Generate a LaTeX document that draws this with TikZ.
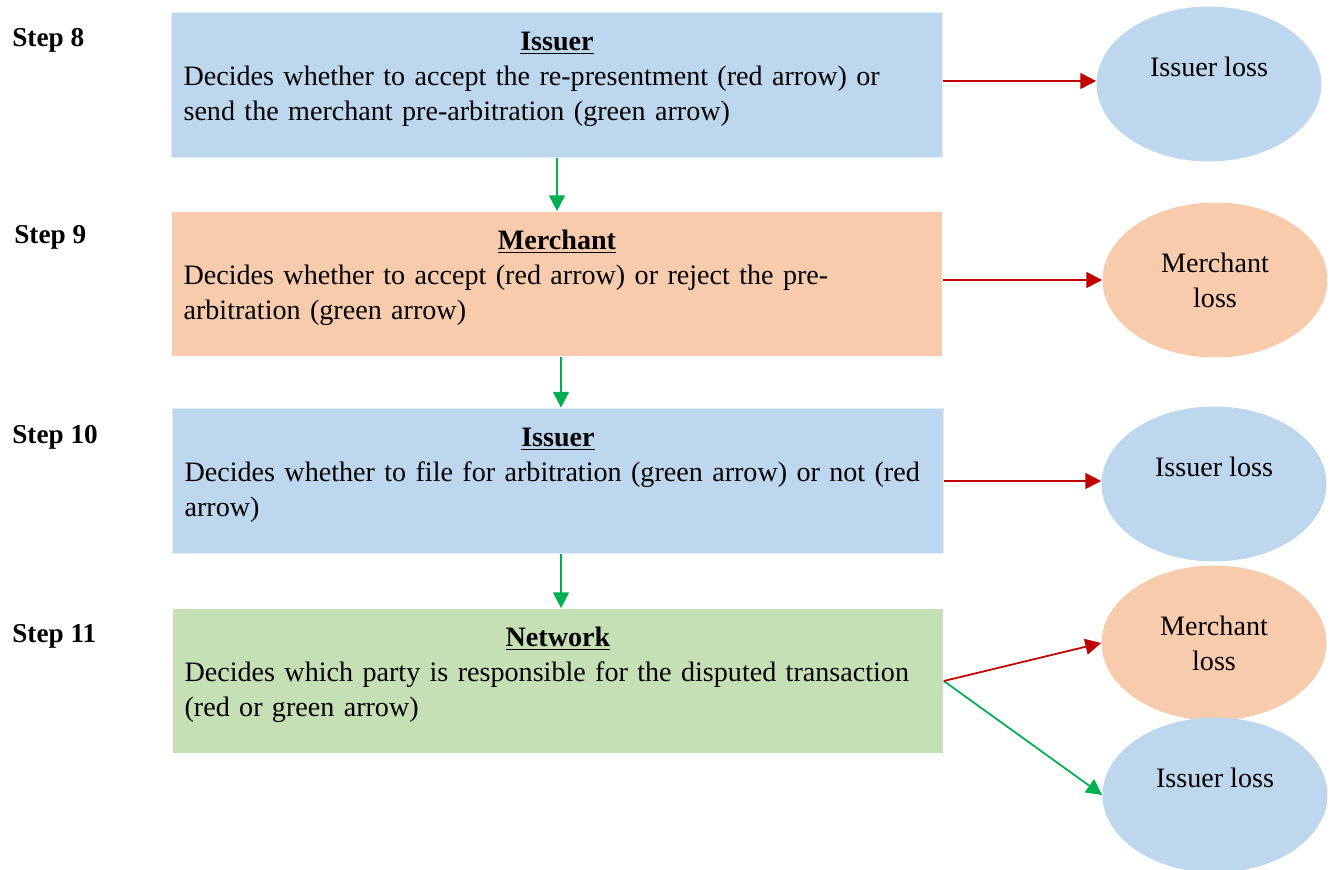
\documentclass[tikz,border=0pt]{standalone}
\usepackage{fontspec}
\setmainfont{Liberation Serif}
\usetikzlibrary{shapes.geometric,arrows.meta}

\definecolor{issuerblue}{HTML}{BDD7EE}
\definecolor{merchantorange}{HTML}{F8CBAD}
\definecolor{networkgreen}{HTML}{C5E0B4}
\definecolor{lossred}{HTML}{C00000}
\definecolor{passgreen}{HTML}{00B050}

\newcommand{\boxtitle}[1]{\makebox[14.94cm][c]{\textbf{\underline{#1}}}}
\newcommand{\boxtail}{\endgraf\vspace*{0.24cm}}

\begin{document}
\begin{tikzpicture}[x=0.02cm,y=-0.02cm,
    txt/.style={font=\fontsize{16}{19.9}\selectfont},
    stage/.style={txt,rectangle,minimum height=2.9cm,text width=14.94cm,
      align=left,inner sep=0.24cm,execute at end node=\boxtail},
    stagelabel/.style={font=\fontsize{15.5}{18}\selectfont\bfseries,anchor=west,inner sep=0pt},
    lossoval/.style={txt,ellipse,minimum width=4.5cm,minimum height=3.1cm,
      inner sep=0pt,align=center},
    redarrow/.style={-{Triangle[length=9pt,width=9pt]},draw=lossred,fill=lossred,line width=1pt},
    greenarrow/.style={-{Triangle[length=9pt,width=9pt]},draw=passgreen,fill=passgreen,line width=1pt}]
  \useasboundingbox (0,0) rectangle (1335,869);

  % step labels
  \node[stagelabel] (s8)  at (12,40)  {Step 8};
  \node[stagelabel] (s9)  at (14,237) {Step 9};
  \node[stagelabel] (s10) at (12,437) {Step 10};
  \node[stagelabel] (s11) at (12,636) {Step 11};

  % decision boxes
  \node[stage,fill=issuerblue,draw=issuerblue!45!white,line width=1pt] (issuer1) at (557,85)
    {\boxtitle{Issuer}\\
     Decides whether to accept the re-presentment (red arrow) or\\
     send the merchant pre-arbitration (green arrow)};
  \node[stage,fill=merchantorange] (merchant) at (557,284)
    {\boxtitle{Merchant}\\
     Decides whether to accept (red arrow) or reject the pre-\\
     arbitration (green arrow)};
  \node[stage,fill=issuerblue,draw=issuerblue!45!white,line width=1pt] (issuer2) at (558,481)
    {\boxtitle{Issuer}\\
     Decides whether to file for arbitration (green arrow) or not (red\\
     arrow)};
  \node[stage,fill=networkgreen] (network) at (558,681)
    {\boxtitle{Network}\\
     Decides which party is responsible for the disputed transaction\\
     (red or green arrow)};

  % outcomes
  \node[lossoval,fill=issuerblue] (loss8) at (1209,84) {Issuer loss\\ \mbox{}};
  \node[lossoval,fill=merchantorange] (loss9) at (1215,280) {Merchant\\ loss};
  \node[lossoval,fill=issuerblue] (loss10) at (1214,484) {Issuer loss\\ \mbox{}};
  \node[lossoval,fill=merchantorange] (loss11m) at (1214,643) {Merchant\\ loss};
  \node[lossoval,fill=issuerblue] (loss11i) at (1215,795) {Issuer loss\\ \mbox{}};

  % green: dispute goes on
  \draw[greenarrow] (issuer1.south) -- (issuer1.south |- merchant.north);
  \draw[greenarrow] (merchant.south) ++(4,0) coordinate (m9) -- (m9 |- issuer2.north);
  \draw[greenarrow] (issuer2.south) ++(3,0) coordinate (m10) -- (m10 |- network.north);
  \draw[greenarrow] (network.east) -- (loss11i.west);

  % red: a party takes the loss
  \draw[redarrow] (issuer1.east) ++(0,-4) coordinate (r8) -- (r8 -| loss8.west);
  \draw[redarrow] (merchant.east |- loss9.west) -- (loss9.west);
  \draw[redarrow] (issuer2.east) -- (issuer2.east -| loss10.west);
  \draw[redarrow] (network.east) -- (loss11m.west);
\end{tikzpicture}
\end{document}
